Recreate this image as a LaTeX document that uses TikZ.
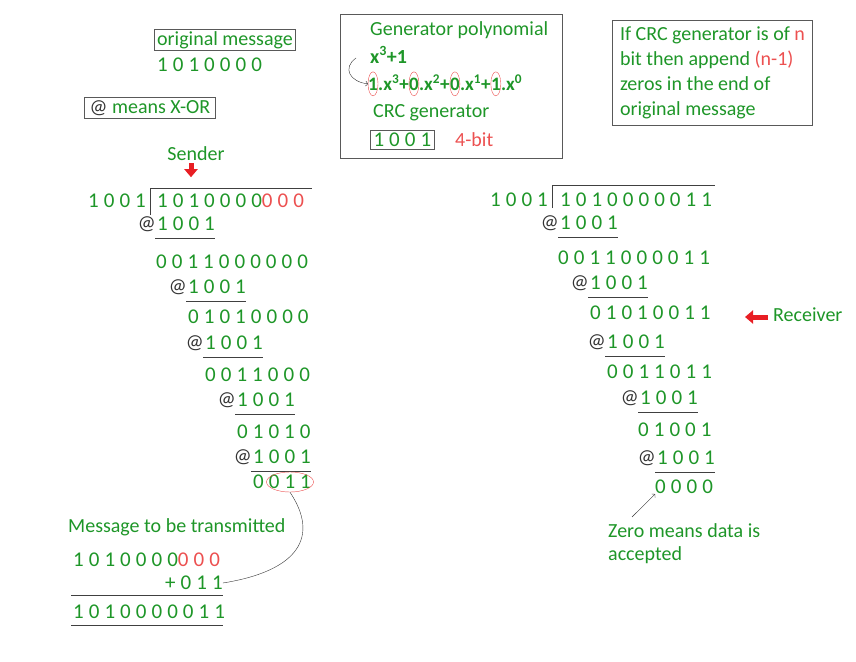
\documentclass[tikz,border=0pt]{standalone}
\usepackage{fontspec}
\setmainfont{Carlito}
\newfontfamily\bitfont[LetterSpace=24]{Carlito}
\usepackage{tikz}
\usetikzlibrary{calc}
\usetikzlibrary{arrows.meta}
\usetikzlibrary{shapes.geometric}
\definecolor{cgreen}{RGB}{30,150,40}
\definecolor{cred}{RGB}{236,80,80}
\definecolor{cbred}{RGB}{232,30,36}
\tikzset{
  txt/.style={text=cgreen, font=\fontsize{20}{23}\selectfont, inner sep=0pt},
  bits/.style={text=cgreen, font=\bitfont\fontsize{21}{23}\selectfont, inner sep=0pt, anchor=west},
  polyt/.style={text=cgreen, font=\bfseries\fontsize{19}{23}\selectfont, inner sep=0pt, anchor=base west},
  xorsym/.style={text=black!80, font=\fontsize{20}{23}\selectfont, inner sep=0pt, anchor=east},
  uline/.style={black!75, line width=0.9pt},
  boxed/.style={draw=black!65, line width=1pt},
  bigred/.style={cbred, line width=5pt, -{Triangle[length=8pt,width=13pt]}}
}

\begin{document}
\begin{tikzpicture}[x=1pt, y=-1pt]
\useasboundingbox (0,0) rectangle (856,661);
% top left notes
\node[txt, boxed, inner xsep=3pt, inner ysep=2pt] (orig) at (225,40) {original message};
\node[bits] (origbits) at (157,65) {1010000};
\node[txt, boxed, inner xsep=5pt, inner ysep=3pt] (xornote) at (150,108) {{\color{black!80}@} means X-OR};
% generator polynomial
\draw[boxed] (340,15) rectangle (562,158);
\node[txt, anchor=west] (gen) at (370,30) {Generator polynomial};
\node[txt, anchor=west, font=\bfseries\fontsize{20}{23}\selectfont] (genx) at (370,55) {x\textsuperscript{3}+1};
\node[polyt] (c1) at (368,90) {1};
\node[polyt] (t1) at (c1.base east) {.x\textsuperscript{3}+};
\node[polyt] (c2) at (t1.base east) {0};
\node[polyt] (t2) at (c2.base east) {.x\textsuperscript{2}+};
\node[polyt] (c3) at (t2.base east) {0};
\node[polyt] (t3) at (c3.base east) {.x\textsuperscript{1}+};
\node[polyt] (c4) at (t3.base east) {1};
\node[polyt] (t4) at (c4.base east) {.x\textsuperscript{0}};
\foreach \c in {c1,c2,c3,c4} {
  \draw[cred, thin] (\c) ellipse (5 and 12);
}
\draw[black!80, thin, ->] (356,58) .. controls (342,68) and (350,82) .. (c1.west);
\node[txt, anchor=west] (crcgen) at (373,113) {CRC generator};
\node[bits, boxed, inner xsep=3pt, inner ysep=3pt] (genbits) at (370,140) {1001};
\node[txt, anchor=west, text=cred] (nbits) at (455,140) {4-bit};
% rule note
\node[txt, boxed, anchor=north west, align=left, minimum width=200pt, minimum height=105pt, font=\fontsize{20}{25}\selectfont] (rule) at (612,20)
  {If CRC generator is of {\color{cred}n}\\bit then append {\color{cred}(n-1)}\\zeros in the end of\\original message};

% sender
\node[txt] (send) at (196,154) {Sender};
\draw[bigred] ($(send.south)+(-5,2)$) -- ++(0,14);
\node[bits] (sdiv) at (88,201) {1001};
\node[bits] (sdvd) at (157,201) {1010000\textcolor{cred}{000}};
\draw[uline] (150,215) -- (150,188) -- (312,188);
\foreach \x/\y [count=\i] in {157/224,188/287,205/343,237/400,253/457} {
  \node[bits] (sx\i) at (\x,\y) {1001};
  \node[xorsym] (sa\i) at ($(sx\i.west)+(-1,0)$) {@};
  \draw[uline] (\x-2,\y+14) -- (\x+58,\y+14);
}
\foreach \t/\x/\y [count=\i] in {0011000000/156/262,01010000/188/317,0011000/205/375,01010/237/432,0011/253/482} {
  \node[bits] (sr\i) at (\x,\y) {\t};
}
\node[draw=cred, thin, ellipse, minimum width=47pt, minimum height=20pt, inner sep=0pt] (crc) at (290,482) {};

% message to be transmitted
\node[txt, anchor=west] (msg) at (68,527) {Message to be transmitted};
\node[bits] (tx) at (73,560) {1010000\textcolor{cred}{000}};
\node[bits] (add) at (165,583) {+011};
\draw[uline] (71,595) -- (223,595);
\node[bits] (txout) at (73,612) {1010000011};
\draw[uline] (71,625) -- (223,625);
\draw[black!80, thin] (crc.south) .. controls +(30,45) and +(75,-12) .. (add.east);

% receiver
\node[bits] (rdiv) at (490,200) {1001};
\node[bits] (rdvd) at (560,200) {1010000011};
\draw[uline] (552,208) -- (552,185) -- (715,185);
\foreach \x/\y [count=\i] in {560/223,590/283,607/342,640/398,657/458} {
  \node[bits] (rx\i) at (\x,\y) {1001};
  \node[xorsym] (ra\i) at ($(rx\i.west)+(-1,0)$) {@};
  \draw[uline] (\x-2,\y+14) -- (\x+58,\y+14);
}
\foreach \t/\x/\y [count=\i] in {0011000011/558/258,01010011/590/313,0011011/607/372,01001/638/430,0000/655/487} {
  \node[bits] (rr\i) at (\x,\y) {\t};
}
\node[txt, anchor=west] (recv) at (773,315) {Receiver};
\draw[bigred] ($(recv.west)+(-5,2)$) -- ++(-23,0);
\node[txt, anchor=north west, align=left] (zero) at (608,523) {Zero means data is\\accepted};
\coordinate (zt) at (632,517);
\draw[black!80, thin, ->] (zt) -- (rr5.south west);
\end{tikzpicture}
\end{document}
